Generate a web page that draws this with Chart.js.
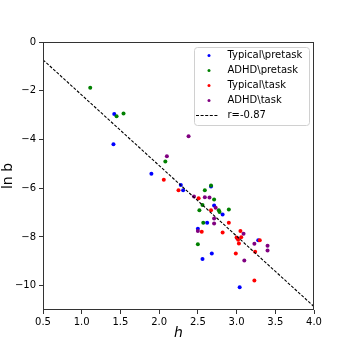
<!DOCTYPE html>
<html><head><meta charset="utf-8">
<script src="https://cdn.jsdelivr.net/npm/chart.js@4"></script>
<style>html,body{margin:0;padding:0;background:#fff}</style>
</head><body>
<canvas id="c" width="349" height="349"></canvas>
<script>
// ---- data ----
const seriesLabels = ['Typical\\pretask', 'ADHD\\pretask', 'Typical\\task', 'ADHD\\task'];
const seriesColors = ['#0000ff', '#008000', '#ff0000', '#800080'];

const typicalPretaskH   = [1.42, 1.41, 1.90, 2.28, 2.31, 2.67, 2.71, 2.82, 2.62, 2.50, 3.01, 3.28, 2.68, 2.56, 3.04];
const typicalPretaskLnB = [-2.96, -4.20, -5.41, -5.87, -6.09, -5.93, -6.71, -7.08, -7.42, -7.67, -8.05, -8.14, -8.68, -8.91, -10.07];

const adhdPretaskH   = [1.11, 1.45, 1.54, 2.08, 2.67, 2.59, 2.71, 2.56, 2.52, 2.77, 2.78, 2.90, 2.57, 2.50];
const adhdPretaskLnB = [-1.88, -3.05, -2.93, -4.90, -5.89, -6.08, -6.46, -6.69, -6.91, -6.91, -6.98, -6.87, -7.42, -8.30];

const typicalTaskH   = [2.06, 2.25, 2.51, 2.67, 2.90, 2.55, 2.82, 3.05, 3.00, 3.06, 3.02, 3.03, 3.30, 3.24, 2.99, 3.23];
const typicalTaskLnB = [-5.65, -6.09, -6.41, -6.91, -7.42, -7.79, -7.82, -7.76, -8.02, -8.01, -8.12, -8.27, -8.14, -8.61, -8.68, -9.79];

const adhdTaskH   = [2.38, 2.10, 2.45, 2.59, 2.65, 2.73, 2.71, 2.71, 2.50, 3.09, 3.23, 3.40, 3.40, 3.10];
const adhdTaskLnB = [-3.87, -4.69, -6.34, -6.37, -6.38, -6.80, -7.24, -7.45, -7.76, -7.87, -8.28, -8.36, -8.56, -8.97];

const fitLabel = 'r=-0.87';
const fitH   = [0.5, 4.0];
const fitLnB = [-0.73, -10.86];

const xTicks = [0.5, 1.0, 1.5, 2.0, 2.5, 3.0, 3.5, 4.0];
const yTicks = [0, -2, -4, -6, -8, -10];

// ---- chart ----
const pairs = (xs, ys) => xs.map((x, i) => ({x: x, y: ys[i]}));
const groups = [[typicalPretaskH, typicalPretaskLnB], [adhdPretaskH, adhdPretaskLnB], [typicalTaskH, typicalTaskLnB], [adhdTaskH, adhdTaskLnB]];
const FONT = "'DejaVu Sans', sans-serif";
const minus = s => String(s).replace('-', '\u2212');

const datasets = groups.map((g, i) => ({
  type: 'scatter', label: seriesLabels[i], data: pairs(g[0], g[1]),
  backgroundColor: seriesColors[i], borderColor: seriesColors[i],
  pointRadius: 2, borderWidth: 0, order: 5 - i
}));
datasets.push({
  type: 'line', label: fitLabel, data: pairs(fitH, fitLnB),
  borderColor: '#000', borderWidth: 1.1, borderDash: [3, 1.6], pointRadius: 0,
  fill: false, order: 0
});

const framePlugin = {
  id: 'frame',
  afterDraw(chart) {
    const {ctx, chartArea: a} = chart;
    ctx.save();
    ctx.strokeStyle = '#333'; ctx.lineWidth = 1;
    const l = Math.round(a.left) + 0.5, t = Math.round(a.top) + 0.5;
    const r = Math.round(a.right) - 0.5, b = Math.round(a.bottom) - 0.5;
    ctx.strokeRect(l, t, r - l, b - t);
    // legend (upper right, inside the axes)
    const bw = 115, bh = 78;
    const bx = a.right - 5 - bw, by = a.top + 5;
    ctx.beginPath();
    if (ctx.roundRect) ctx.roundRect(bx + 0.5, by + 0.5, bw, bh, 3); else ctx.rect(bx + 0.5, by + 0.5, bw, bh);
    ctx.fillStyle = 'rgba(255,255,255,0.85)'; ctx.fill();
    ctx.strokeStyle = '#d0d0d0'; ctx.lineWidth = 1; ctx.stroke();
    ctx.font = '10px ' + FONT; ctx.textBaseline = 'middle'; ctx.textAlign = 'left';
    chart.data.datasets.forEach((ds, i) => {
      const y = by + 8.5 + i * 15;
      if (ds.type === 'line') {
        ctx.beginPath(); ctx.setLineDash(ds.borderDash); ctx.strokeStyle = ds.borderColor; ctx.lineWidth = ds.borderWidth;
        ctx.moveTo(bx + 2, y); ctx.lineTo(bx + 24, y); ctx.stroke(); ctx.setLineDash([]);
      } else {
        ctx.beginPath(); ctx.fillStyle = ds.backgroundColor; ctx.arc(bx + 15, y, 1.5, 0, Math.PI * 2); ctx.fill();
      }
      ctx.fillStyle = '#000';
      ctx.fillText(ds.label, bx + 33.5, y);
    });
    ctx.restore();
  }
};

new Chart(document.getElementById('c'), {
  data: {datasets: datasets},
  options: {
    responsive: false, animation: false, devicePixelRatio: 1,
    layout: {padding: {left: 0, top: 42, right: 35, bottom: 0}},
    plugins: {legend: {display: false}, tooltip: {enabled: false}},
    scales: {
      x: {
        type: 'linear', position: 'bottom', min: 0.5, max: 4.0,
        afterBuildTicks: s => { s.ticks = xTicks.map(v => ({value: v})); },
        afterFit: s => { s.height = 39; },
        ticks: {callback: v => minus(Number(v).toFixed(1)), color: '#000', font: {family: FONT, size: 10}, padding: 2, maxRotation: 0, autoSkip: false},
        grid: {drawOnChartArea: false, drawTicks: true, tickLength: 4, color: '#333'},
        border: {display: false},
        title: {display: true, text: 'h', color: '#000', font: {family: FONT, size: 14, style: 'italic'}, padding: {top: 0, bottom: 7}}
      },
      y: {
        type: 'linear', position: 'left', min: -11, max: 0,
        afterBuildTicks: s => { s.ticks = yTicks.map(v => ({value: v})); },
        afterFit: s => { s.width = 43; },
        ticks: {callback: v => minus(v), color: '#000', font: {family: FONT, size: 10}, padding: 3, autoSkip: false},
        grid: {drawOnChartArea: false, drawTicks: true, tickLength: 4, color: '#333'},
        border: {display: false},
        title: {display: true, text: 'ln b', color: '#000', font: {family: FONT, size: 14}, padding: {top: 0, bottom: 0}}
      }
    }
  },
  plugins: [framePlugin]
});
</script>
</body></html>
